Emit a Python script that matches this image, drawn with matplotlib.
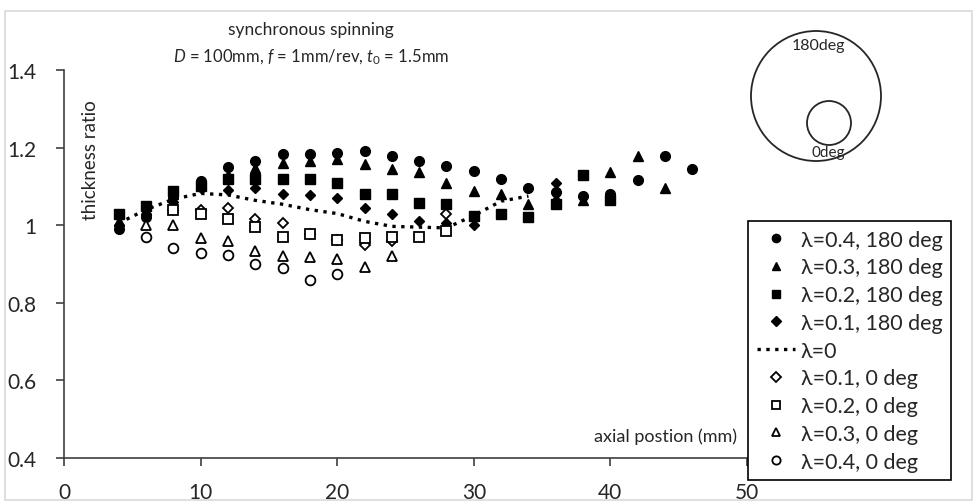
import matplotlib
matplotlib.use("Agg")
import matplotlib.pyplot as plt
from matplotlib.patches import Rectangle, Ellipse

plt.rcParams['font.family'] = ['Lato', 'DejaVu Sans']
plt.rcParams['mathtext.fontset'] = 'custom'
plt.rcParams['mathtext.rm'] = 'Lato'
plt.rcParams['mathtext.it'] = 'Lato:italic'

# ---------------- data ----------------
x_c180 = [4, 6, 8, 10, 12, 14, 16, 18, 20, 22, 24, 26, 28, 30, 32, 34, 36, 38, 40, 42, 44, 46]
y_c180 = [0.99, 1.02, 1.075, 1.115, 1.15, 1.165, 1.183, 1.183, 1.186, 1.19, 1.178, 1.165,
          1.152, 1.14, 1.118, 1.096, 1.085, 1.075, 1.08, 1.116, 1.178, 1.144]

x_t180 = [4, 6, 8, 10, 12, 14, 16, 18, 20, 22, 24, 26, 28, 30, 32, 34, 36, 38, 40, 42, 44]
y_t180 = [1.01, 1.04, 1.08, 1.11, 1.13, 1.147, 1.16, 1.165, 1.17, 1.157, 1.144, 1.137,
          1.108, 1.088, 1.08, 1.054, 1.07, 1.065, 1.137, 1.178, 1.095]

x_s180 = [4, 6, 8, 10, 12, 14, 16, 18, 20, 22, 24, 26, 28, 30, 32, 34, 36, 38, 40]
y_s180 = [1.03, 1.05, 1.087, 1.1, 1.12, 1.118, 1.12, 1.12, 1.108, 1.08, 1.08, 1.057,
          1.054, 1.025, 1.03, 1.02, 1.055, 1.13, 1.065]

x_d180 = [4, 6, 8, 10, 12, 14, 16, 18, 20, 22, 24, 26, 28, 30, 36]
y_d180 = [1.0, 1.03, 1.06, 1.095, 1.09, 1.095, 1.08, 1.077, 1.07, 1.044, 1.03, 1.01,
          1.005, 1.0, 1.11]

x_l0 = [4, 6, 8, 10, 12, 14, 16, 18, 20, 22, 24, 26, 28, 30, 32, 34]
y_l0 = [1.005, 1.04, 1.067, 1.082, 1.078, 1.064, 1.054, 1.04, 1.03, 1.01, 0.997,
        0.995, 0.993, 1.025, 1.062, 1.075]

x_d0 = [8, 10, 12, 14, 16, 18, 20, 22, 24, 28]
y_d0 = [1.04, 1.04, 1.044, 1.015, 1.005, 0.978, 0.963, 0.948, 0.96, 1.03]

x_s0 = [8, 10, 12, 14, 16, 18, 20, 22, 24, 26, 28]
y_s0 = [1.038, 1.03, 1.016, 0.995, 0.97, 0.978, 0.963, 0.966, 0.97, 0.97, 0.985]

x_t0 = [6, 8, 10, 12, 14, 16, 18, 20, 22, 24]
y_t0 = [1.0, 1.0, 0.967, 0.96, 0.933, 0.92, 0.918, 0.912, 0.892, 0.92]

x_c0 = [6, 8, 10, 12, 14, 16, 18, 20]
y_c0 = [0.97, 0.94, 0.928, 0.923, 0.9, 0.89, 0.86, 0.874]

labels = ["λ=0.4, 180 deg", "λ=0.3, 180 deg", "λ=0.2, 180 deg", "λ=0.1, 180 deg",
          "λ=0", "λ=0.1, 0 deg", "λ=0.2, 0 deg", "λ=0.3, 0 deg", "λ=0.4, 0 deg"]
xticks = [0, 10, 20, 30, 40, 50]
yticks = [0.4, 0.6, 0.8, 1.0, 1.2, 1.4]
ytick_labels = ["0.4", "0.6", "0.8", "1", "1.2", "1.4"]

# ---------------- figure ----------------
W, H = 973, 502
fig = plt.figure(figsize=(W / 100, H / 100), dpi=100)

def fx(px):
    return px / W

def fy(py):
    return 1 - py / H

TXT = '#262626'

# chart border
fig.patches.append(Rectangle((fx(5), fy(501)), fx(967), 489 / H, transform=fig.transFigure,
                             fill=False, edgecolor='#d9d9d9', linewidth=1.2))

ax = fig.add_axes([fx(64), fy(459), (747 - 64) / W, (459 - 71) / H])
ax.set_xlim(0, 50)
ax.set_ylim(0.4, 1.4)
ax.set_xticks(xticks)
ax.set_yticks(yticks)
ax.set_yticklabels(ytick_labels)
for s in ['top', 'right']:
    ax.spines[s].set_visible(False)
for s in ['left', 'bottom']:
    ax.spines[s].set_color('#404040')
    ax.spines[s].set_linewidth(1.2)
ax.tick_params(axis='both', direction='out', length=6, width=1.2, color='#404040',
               labelsize=15, labelcolor=TXT)
ax.tick_params(axis='x', pad=11)
ax.tick_params(axis='y', pad=14)
ax.patch.set_alpha(0)

ms = 7
k = 'black'
h = []
h.append(ax.plot(x_c180, y_c180, 'o', ms=ms, color=k, label=labels[0])[0])
h.append(ax.plot(x_t180, y_t180, '^', ms=ms, color=k, label=labels[1])[0])
h.append(ax.plot(x_s180, y_s180, 's', ms=ms - 0.5, color=k, label=labels[2])[0])
h.append(ax.plot(x_d180, y_d180, 'D', ms=ms - 1.5, color=k, label=labels[3])[0])
h.append(ax.plot(x_l0, y_l0, ':', lw=2.4, color=k, label=labels[4])[0])
h.append(ax.plot(x_d0, y_d0, 'D', ms=ms - 1.5, mfc='white', mec=k, mew=1.3, label=labels[5])[0])
h.append(ax.plot(x_s0, y_s0, 's', ms=ms - 0.5, mfc='white', mec=k, mew=1.3, label=labels[6])[0])
h.append(ax.plot(x_t0, y_t0, '^', ms=ms, mfc='white', mec=k, mew=1.3, label=labels[7])[0])
h.append(ax.plot(x_c0, y_c0, 'o', ms=ms, mfc='white', mec=k, mew=1.3, label=labels[8])[0])

leg = fig.legend(handles=h, loc='upper left', bbox_to_anchor=(fx(748), fy(222)),
                 bbox_transform=fig.transFigure, fontsize=15.5, frameon=True,
                 fancybox=False, edgecolor='black', framealpha=1, handlelength=1.8,
                 handletextpad=0.25, labelspacing=0.36, borderpad=0.4, borderaxespad=0,
                 markerscale=0.85)
leg.get_frame().set_linewidth(1.2)
for t in leg.get_texts():
    t.set_color(TXT)

# texts
fig.text(fx(311), fy(30), "synchronous spinning", ha='center', va='center', fontsize=12.5,
         color=TXT)
fig.text(fx(311), fy(57), r"$D$ = 100mm, $f$ = 1mm/rev, $t_0$ = 1.5mm", ha='center',
         va='center', fontsize=12, color=TXT)
fig.text(fx(90), fy(160), "thickness ratio", rotation=90, ha='center', va='center',
         fontsize=13.5, color=TXT)
fig.text(fx(737), fy(437), "axial postion (mm)", ha='right', va='center', fontsize=13,
         color=TXT)

# circle diagram
fig.patches.append(Ellipse((fx(816), fy(97)), 2 * 65 / W, 2 * 65 / H,
                           transform=fig.transFigure, fill=False, edgecolor=TXT, lw=1.3))
fig.patches.append(Ellipse((fx(829), fy(124)), 2 * 22 / W, 2 * 22 / H,
                           transform=fig.transFigure, fill=False, edgecolor=TXT, lw=1.3))
fig.text(fx(818), fy(46), "180deg", ha='center', va='center', fontsize=11.5, color=TXT)
fig.text(fx(828), fy(153), "0deg", ha='center', va='center', fontsize=11, color=TXT)

fig.savefig("out.png", dpi=100)
